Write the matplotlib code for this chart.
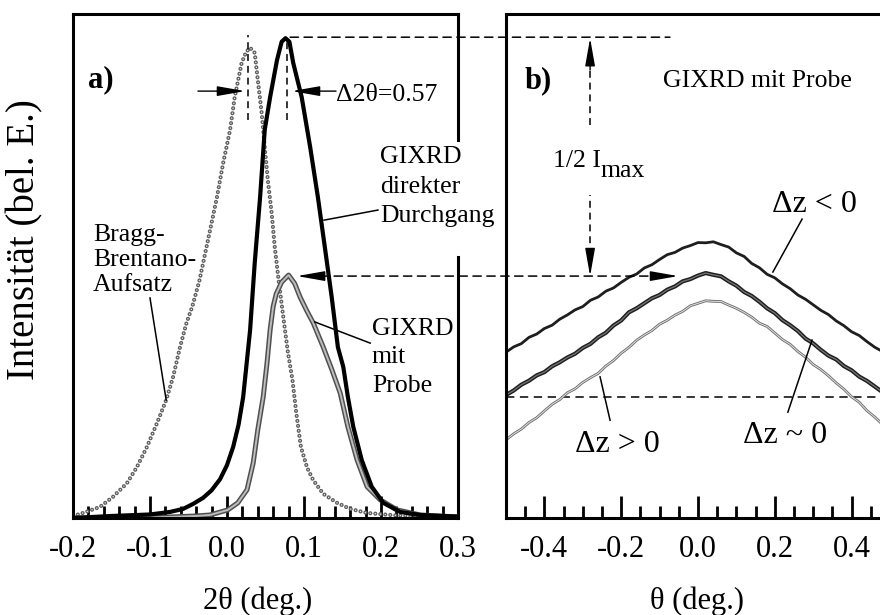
import matplotlib
matplotlib.use('Agg')
import matplotlib.pyplot as plt
from matplotlib.ticker import MultipleLocator
from matplotlib.patches import ConnectionPatch

plt.rcParams['font.family'] = ['Liberation Serif', 'DejaVu Serif']
plt.rcParams['axes.unicode_minus'] = False
plt.rcParams['lines.scale_dashes'] = False

# ---------------- data: panel a (2theta scan) ----------------
a_ticks = [-0.2, -0.1, 0.0, 0.1, 0.2, 0.3]
a_ticklabels = ['-0.2', '-0.1', '0.0', '0.1', '0.2', '0.3']

bb_x = [-0.200, -0.187, -0.165, -0.148, -0.130, -0.117, -0.104, -0.091, -0.079, -0.070,
        -0.061, -0.053, -0.045, -0.036, -0.031, -0.022, -0.013, -0.005, 0.004, 0.010,
        0.019, 0.025, 0.030, 0.036, 0.040, 0.045, 0.049, 0.053, 0.058, 0.062,
        0.067, 0.073, 0.079, 0.085, 0.090, 0.096, 0.104, 0.112, 0.125, 0.143,
        0.160, 0.182, 0.220, 0.260, 0.300]
bb_y = [0.004, 0.010, 0.022, 0.042, 0.069, 0.101, 0.141, 0.188, 0.234, 0.280,
        0.339, 0.385, 0.420, 0.470, 0.506, 0.571, 0.637, 0.704, 0.770, 0.835,
        0.903, 0.925, 0.933, 0.923, 0.869, 0.804, 0.736, 0.671, 0.605, 0.538,
        0.472, 0.400, 0.330, 0.274, 0.208, 0.141, 0.100, 0.075, 0.048, 0.030,
        0.018, 0.010, 0.005, 0.003, 0.002]

dir_x = [-0.200, -0.150, -0.100, -0.074, -0.057, -0.044, -0.031, -0.020, -0.009, 0.000,
         0.008, 0.015, 0.021, 0.030, 0.036, 0.043, 0.049, 0.056, 0.065, 0.071,
         0.076, 0.081, 0.086, 0.097, 0.108, 0.118, 0.127, 0.136, 0.144, 0.151,
         0.157, 0.164, 0.175, 0.188, 0.203, 0.225, 0.251, 0.280, 0.300]
dir_y = [0.000, 0.004, 0.007, 0.012, 0.018, 0.028, 0.040, 0.055, 0.077, 0.105,
         0.141, 0.185, 0.240, 0.373, 0.506, 0.637, 0.770, 0.835, 0.909, 0.945,
         0.952, 0.945, 0.903, 0.835, 0.736, 0.637, 0.538, 0.438, 0.339, 0.300,
         0.240, 0.181, 0.115, 0.062, 0.030, 0.012, 0.006, 0.004, 0.003]

mp_x = [-0.200, -0.100, -0.074, -0.040, -0.022, 0.001, 0.014, 0.026, 0.034, 0.040,
        0.047, 0.052, 0.056, 0.060, 0.064, 0.071, 0.080, 0.088, 0.095, 0.104,
        0.112, 0.125, 0.136, 0.147, 0.157, 0.169, 0.182, 0.199, 0.221, 0.251, 0.300]
mp_y = [0.000, 0.001, 0.002, 0.004, 0.006, 0.016, 0.030, 0.056, 0.109, 0.175,
        0.240, 0.308, 0.373, 0.420, 0.445, 0.468, 0.482, 0.465, 0.438, 0.410,
        0.387, 0.339, 0.295, 0.248, 0.181, 0.115, 0.062, 0.036, 0.016, 0.006, 0.002]

# ---------------- data: panel b (theta scan) ----------------
b_ticks = [-0.4, -0.2, 0.0, 0.2, 0.4]
b_ticklabels = ['-0.4', '-0.2', '0.0', '0.2', '0.4']

theta = [-0.50, -0.48, -0.46, -0.44, -0.42, -0.40, -0.38, -0.36, -0.34, -0.32,
         -0.30, -0.28, -0.26, -0.24, -0.22, -0.20, -0.18, -0.16, -0.14, -0.12,
         -0.10, -0.08, -0.06, -0.04, -0.02, 0.00, 0.02, 0.04, 0.06, 0.08,
         0.10, 0.12, 0.14, 0.16, 0.18, 0.20, 0.22, 0.24, 0.26, 0.28,
         0.30, 0.32, 0.34, 0.36, 0.38, 0.40, 0.42, 0.44, 0.46, 0.48]
dz_neg = [0.329, 0.3395, 0.346, 0.3585, 0.365, 0.376, 0.3825, 0.3945, 0.403, 0.413,
          0.4195, 0.432, 0.4385, 0.450, 0.4565, 0.4675, 0.4775, 0.484, 0.496, 0.5025,
          0.513, 0.5225, 0.527, 0.5355, 0.5405, 0.5465, 0.546, 0.548, 0.5425, 0.5375,
          0.526, 0.519, 0.505, 0.4965, 0.4835, 0.4765, 0.4645, 0.455, 0.4425, 0.434,
          0.423, 0.412, 0.4035, 0.391, 0.3815, 0.3695, 0.362, 0.350, 0.339, 0.3305]
dz_zero = [0.244, 0.253, 0.2645, 0.2725, 0.283, 0.2895, 0.301, 0.309, 0.3185, 0.326,
           0.3375, 0.3455, 0.3585, 0.3675, 0.382, 0.392, 0.408, 0.416, 0.426, 0.436,
           0.4425, 0.453, 0.4595, 0.4695, 0.474, 0.481, 0.486, 0.4825, 0.4795, 0.4695,
           0.461, 0.4485, 0.4405, 0.429, 0.416, 0.4065, 0.3925, 0.3825, 0.371, 0.356,
           0.3465, 0.3335, 0.322, 0.3145, 0.3015, 0.293, 0.2805, 0.272, 0.261, 0.250]
dz_pos = [0.155, 0.167, 0.1765, 0.1895, 0.199, 0.2125, 0.2255, 0.235, 0.2485, 0.2565,
          0.269, 0.2785, 0.287, 0.3015, 0.3125, 0.327, 0.3385, 0.3525, 0.363, 0.372,
          0.3845, 0.3925, 0.4025, 0.410, 0.421, 0.426, 0.431, 0.430, 0.4295, 0.4225,
          0.416, 0.408, 0.3985, 0.3865, 0.380, 0.367, 0.354, 0.3445, 0.3305, 0.319,
          0.3045, 0.2945, 0.282, 0.268, 0.2555, 0.2405, 0.2295, 0.213, 0.2005, 0.186]
half_level = 0.240

# ---------------- figure ----------------
W, H = 880, 615
fig = plt.figure(figsize=(8.8, 6.15), dpi=100)


def fx(px):
    return px / W


def fy(py):
    return 1 - py / H


ax_a = fig.add_axes([fx(73), fy(518), fx(458) - fx(73), fy(14) - fy(518)])
ax_b = fig.add_axes([fx(506), fy(518), fx(890) - fx(506), fy(14) - fy(518)])

for ax in (ax_a, ax_b):
    ax.set_ylim(0, 1)
    ax.set_yticks([])
    for s in ax.spines.values():
        s.set_linewidth(2.2)
    ax.tick_params(axis='x', which='major', direction='in', length=16, width=2.0,
                   labelsize=22, pad=12, top=False)
    ax.tick_params(axis='x', which='minor', direction='in', length=8.5, width=2.0,
                   top=False)

ax_a.set_xlim(-0.2, 0.3)
ax_a.set_xticks(a_ticks)
ax_a.set_xticklabels(a_ticklabels)
ax_a.xaxis.set_minor_locator(MultipleLocator(0.02))
ax_a.spines['right'].set_visible(False)
ax_a.plot([1, 1], [0.75, 1.0], transform=ax_a.transAxes, color='k', lw=2.2,
          clip_on=False, solid_capstyle='projecting')
ax_a.plot([1, 1], [0.0, 0.518], transform=ax_a.transAxes, color='k', lw=2.2,
          clip_on=False, solid_capstyle='projecting')

ax_b.set_xlim(-0.5, 0.5)
ax_b.set_xticks(b_ticks)
ax_b.set_xticklabels(b_ticklabels)
ax_b.xaxis.set_minor_locator(MultipleLocator(0.05))
ax_b.spines['right'].set_visible(False)

# ---- panel a curves ----
dots = (0, (0.01, 3.6))
ax_a.plot(bb_x, bb_y, color='#5e5e5e', lw=3.0, linestyle=dots, dash_capstyle='round')
ax_a.plot(bb_x, bb_y, color='#e8e8e8', lw=1.1, linestyle=dots, dash_capstyle='round')
ax_a.plot(mp_x, mp_y, color='#505050', lw=3.6, solid_joinstyle='round')
ax_a.plot(mp_x, mp_y, color='#bdbdbd', lw=1.4, solid_joinstyle='round')
ax_a.plot(dir_x, dir_y, color='black', lw=3.0, solid_joinstyle='round')

# ---- panel b curves ----
ax_b.axhline(half_level, color='k', lw=1.1, linestyle=(0, (6, 4)))
ax_b.plot(theta, dz_neg, color='#1e1e1e', lw=2.0)
ax_b.plot(theta, dz_zero, color='#1e1e1e', lw=3.0)
ax_b.plot(theta, dz_zero, color='#777777', lw=0.9)
ax_b.plot(theta, dz_pos, color='#6e6e6e', lw=2.0)
ax_b.plot(theta, dz_pos, color='#e0e0e0', lw=0.7)

# ---- helpers ----
AST = '-|>,head_length=1.7,head_width=0.3'


def arrow(ax, tip, base):
    ax.annotate('', xy=tip, xytext=base, xycoords='data', textcoords='data',
                annotation_clip=False,
                arrowprops=dict(arrowstyle=AST, mutation_scale=10, color='k', lw=1.0,
                                shrinkA=0, shrinkB=0))


def lines_text(ax, x, ys, texts, size):
    for y, t in zip(ys, texts):
        ax.text(x, y, t, fontsize=size, va='baseline', ha='left')


dash = (0, (5, 3.5))

# ---- panel a annotations ----
ax_a.text(-0.1805, 0.855, 'a)', fontsize=22, fontweight='bold', va='baseline')
ax_a.plot([0.027, 0.027], [0.790, 0.958], color='k', lw=1.1, linestyle=dash)
ax_a.plot([0.078, 0.078], [0.790, 0.952], color='k', lw=1.1, linestyle=dash)
arrow(ax_a, (0.0234, 0.847), (-0.0377, 0.847))
arrow(ax_a, (0.0844, 0.847), (0.1416, 0.847))
ax_a.text(0.1416, 0.827, 'Δ2θ=0.57', fontsize=18.5, va='baseline')

lines_text(ax_a, 0.1987, [0.704, 0.645, 0.587], ['GIXRD', 'direkter', 'Durchgang'], 18.5)
ax_a.plot([0.126, 0.196], [0.591, 0.611], color='k', lw=1.1)

lines_text(ax_a, -0.174, [0.549, 0.500, 0.450], ['Bragg-', 'Brentano-', 'Aufsatz'], 18.5)
ax_a.plot([-0.100, -0.079], [0.4365, 0.234], color='k', lw=1.1)

lines_text(ax_a, 0.1883, [0.363, 0.3075, 0.250], ['GIXRD', 'mit', 'Probe'], 18.5)
ax_a.plot([0.114, 0.186], [0.389, 0.347], color='k', lw=1.1)

# ---- connecting dashed lines between panels ----
cp1 = ConnectionPatch(xyA=(0.082, 0.954), coordsA=ax_a.transData,
                      xyB=(-0.073, 0.954), coordsB=ax_b.transData,
                      color='k', lw=1.1, linestyle=(0, (6, 4)))
fig.add_artist(cp1)
cp2 = ConnectionPatch(xyA=(0.121, 0.480), coordsA=ax_a.transData,
                      xyB=(-0.117, 0.480), coordsB=ax_b.transData,
                      color='k', lw=1.1, linestyle=(0, (6, 4)))
fig.add_artist(cp2)
arrow(ax_a, (0.091, 0.480), (0.124, 0.480))
arrow(ax_b, (-0.052, 0.480), (-0.117, 0.480))

# ---- panel b annotations ----
ax_b.text(-0.4505, 0.853, 'b)', fontsize=22, fontweight='bold', va='baseline')
ax_b.text(-0.091, 0.855, 'GIXRD mit Probe', fontsize=18.5, va='baseline')
ax_b.plot([-0.281, -0.281], [0.780, 0.889], color='k', lw=1.1, linestyle=dash)
ax_b.plot([-0.281, -0.281], [0.522, 0.641], color='k', lw=1.1, linestyle=dash)
arrow(ax_b, (-0.281, 0.952), (-0.281, 0.889))
arrow(ax_b, (-0.281, 0.480), (-0.281, 0.530))
ax_b.text(-0.378, 0.696, '1/2 I', fontsize=18.5, va='baseline')
ax_b.text(-0.255, 0.677, 'max', fontsize=18.5, va='baseline')

ax_b.text(0.193, 0.607, 'Δz < 0', fontsize=23, va='baseline')
ax_b.plot([0.271, 0.195], [0.593, 0.488], color='k', lw=1.1)
ax_b.text(-0.320, 0.131, 'Δz > 0', fontsize=23, va='baseline')
ax_b.plot([-0.229, -0.255], [0.194, 0.280], color='k', lw=1.1)
ax_b.text(0.117, 0.149, 'Δz ~ 0', fontsize=23, va='baseline')
ax_b.plot([0.234, 0.297], [0.210, 0.353], color='k', lw=1.1)

# ---- axis labels ----
fig.text(fx(258), fy(601), '2θ (deg.)', ha='center', va='center', fontsize=22)
fig.text(fx(697), fy(601), 'θ (deg.)', ha='center', va='center', fontsize=22)
fig.text(fx(25), fy(240), 'Intensität (bel. E.)', ha='center', va='center',
         rotation=90, fontsize=28)

fig.savefig('out.png', dpi=100)
